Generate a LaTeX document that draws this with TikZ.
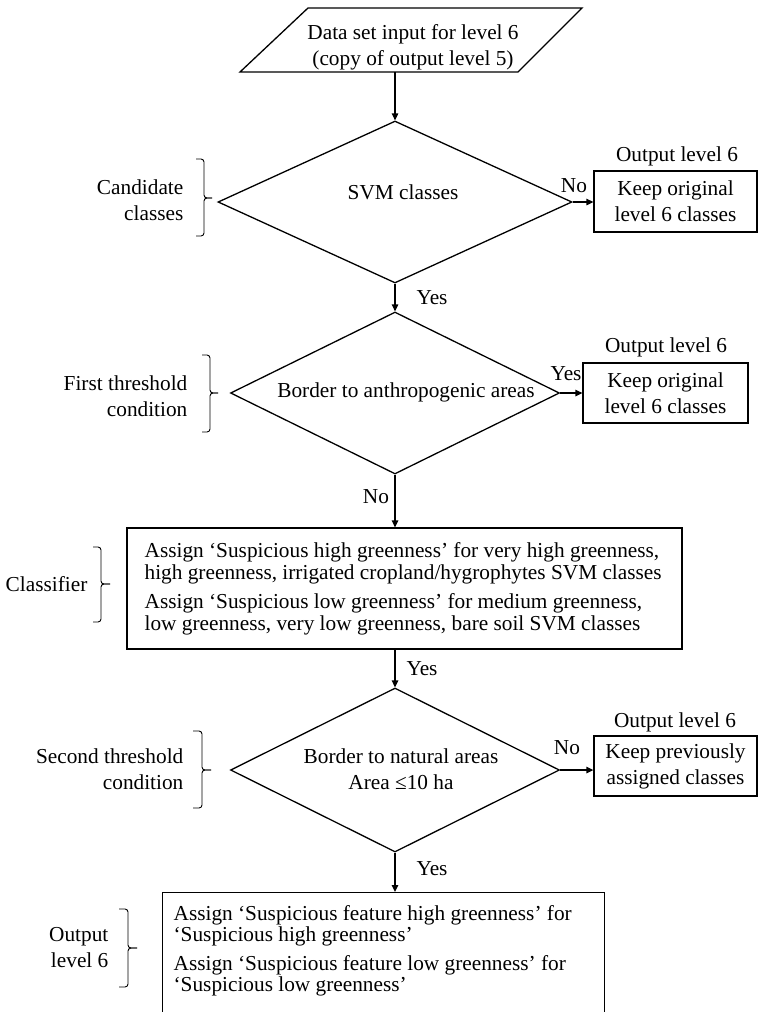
\documentclass[tikz,border=0pt]{standalone}
\usepackage{fontspec}
\setmainfont{Liberation Serif}
\usetikzlibrary{shapes.geometric,arrows.meta}
\begin{document}
\begin{tikzpicture}[x=1pt,y=-1pt,line width=1.3pt,
  txt/.style={font=\fontsize{21.3pt}{26pt}\selectfont, inner sep=0pt, align=center},
  para/.style={txt, align=left, anchor=west, font=\fontsize{21.3pt}{21.5pt}\selectfont},
  dia/.style={draw, diamond, inner sep=0pt},
  box/.style={draw, rectangle, txt},
  arr/.style={-{Triangle[length=7pt,width=6.5pt]}},
  brc/.style={line width=0.9pt, rounded corners=3pt}]
\useasboundingbox (0,0) rectangle (758,1012);
\clip (0,0) rectangle (758,1012);
\fill[white] (0,0) rectangle (758,1012);

% input
\draw (240,72) -- (308,8) -- (582,8) -- (518,72) -- cycle;
\node[txt] (in) at (413,47) {Data set input for level 6\\(copy of output level 5)};
\coordinate (inb) at (395,72);

% diamonds
\node[dia, minimum width=354pt, minimum height=162pt] (d1) at (395,202) {};
\node[txt] (d1t) at (403,192) {SVM classes};
\node[dia, minimum width=329pt, minimum height=162pt] (d2) at (395,393) {};
\node[txt] (d2t) at (406,392) {Border to anthropogenic areas};
\node[dia, minimum width=329pt, minimum height=164pt] (d3) at (395,770) {};
\node[txt] (d3t) at (401,769) {Border to natural areas\\Area ≤10 ha};

% output boxes
\node[box, minimum width=163pt, minimum height=61pt] (o1) at (675.5,201.5) {Keep original\\level 6 classes};
\node[txt] (o1l) at (677,156) {Output level 6};
\node[box, minimum width=165pt, minimum height=60pt] (o2) at (665.5,393) {Keep original\\level 6 classes};
\node[txt] (o2l) at (666,347) {Output level 6};
\node[box, minimum width=163pt, minimum height=60pt] (o3) at (675.5,766) {Keep previously\\assigned classes};
\node[txt] (o3l) at (675,722) {Output level 6};

% classifier box
\node[draw, rectangle, minimum width=555pt, minimum height=121pt] (cl) at (404.5,588.5) {};
\node[para] (clt) at (144,589) {Assign ‘Suspicious high greenness’ for very high greenness,\\high greenness, irrigated cropland/hygrophytes SVM classes\\[8pt]Assign ‘Suspicious low greenness’ for medium greenness,\\low greenness, very low greenness, bare soil SVM classes};

% bottom box
\node[draw, rectangle, anchor=north west, minimum width=442pt, minimum height=160pt] (bt) at (162,892) {};
\node[para] (btt) at (173,951) {Assign ‘Suspicious feature high greenness’ for\\‘Suspicious high greenness’\\[7pt]Assign ‘Suspicious feature low greenness’ for\\‘Suspicious low greenness’};

% connectors
\draw[arr] (inb) -- (d1.north);
\draw[arr] (d1.east) -- (d1.east -| o1.west);
\draw[arr] (d1.south) -- (d2.north);
\draw[arr] (d2.east) -- (d2.east -| o2.west);
\draw[arr] (d2.south) -- (d2.south |- cl.north);
\draw[arr] (d3.north |- cl.south) -- (d3.north);
\draw[arr] (d3.east) -- (d3.east -| o3.west);
\draw[arr] (d3.south) -- (d3.south |- bt.north);

% connector labels
\node[txt] (n1) at (574,186) {No};
\node[txt] (y1) at (432,298) {Yes};
\node[txt] (y2) at (566,374) {Yes};
\node[txt] (n2) at (376,497) {No};
\node[txt] (y3) at (422,669) {Yes};
\node[txt] (n3) at (567,748) {No};
\node[txt] (y4) at (432,869) {Yes};

% side labels
\node[txt, align=right, anchor=east] (s1) at (184,200) {Candidate\\classes};
\node[txt, align=right, anchor=east] (s2) at (188,396) {First threshold\\condition};
\node[txt, align=right, anchor=east] (s3) at (88,584) {Classifier};
\node[txt, align=right, anchor=east] (s4) at (184,769) {Second threshold\\condition};
\node[txt, align=right, anchor=east] (s5) at (109,948) {Output\\level 6};

% braces
\draw[brc] (196,159) -| (204,198) -- (212,198);
\draw[brc] (212,198) -- (204,198) |- (196,236);
\draw[brc] (202,355) -| (210,393) -- (218,393);
\draw[brc] (218,393) -- (210,393) |- (202,432);
\draw[brc] (93,547) -| (101,584) -- (110,584);
\draw[brc] (110,584) -- (101,584) |- (93,622);
\draw[brc] (193,731) -| (202,770) -- (211,770);
\draw[brc] (211,770) -- (202,770) |- (193,808);
\draw[brc] (119,909) -| (128,948) -- (137,948);
\draw[brc] (137,948) -- (128,948) |- (119,987);
\end{tikzpicture}
\end{document}
